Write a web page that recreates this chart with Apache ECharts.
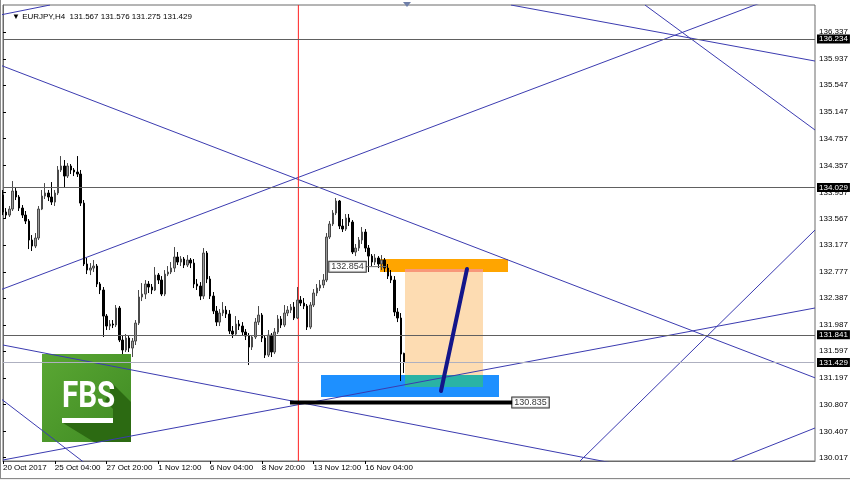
<!DOCTYPE html>
<html><head><meta charset="utf-8">
<script src="https://cdn.jsdelivr.net/npm/echarts@6/dist/echarts.min.js"></script>
<style>html,body{margin:0;padding:0;background:#fff}#c{width:850px;height:480px}</style>
</head><body><div id="c"></div>
<script>
// ---------- data ----------
const chartTitle = '\u25BC EURJPY,H4  131.567 131.576 131.275 131.429';
const slotCount = 252;          // bar slots on the time axis (incl. empty future space)
const barsPerTick = 16;
const xTickLabels = ['20 Oct 2017','25 Oct 04:00','27 Oct 20:00','1 Nov 12:00','6 Nov 04:00','8 Nov 20:00','13 Nov 12:00','16 Nov 04:00'];
const yTickValues = [130.017,130.407,130.807,131.197,131.597,131.987,132.387,132.777,133.177,133.567,133.957,134.357,134.757,135.147,135.547,135.937,136.337];
const yMin = 129.968, yMax = 136.739;
// [open, close, low, high]
const ohlc = [
[133.917,133.665,133.620,133.992],[133.665,133.620,133.576,133.724],[133.620,133.709,133.591,133.754],[133.709,133.977,133.680,134.125],
[133.977,133.888,133.843,134.021],[133.888,133.724,133.680,133.917],[133.724,133.620,133.576,133.769],[133.620,133.531,133.487,133.680],
[133.531,133.249,133.115,133.561],[133.249,133.160,133.086,133.323],[133.160,133.279,133.130,133.353],[133.279,133.709,133.249,133.754],
[133.709,133.902,133.694,133.992],[133.902,133.947,133.858,134.095],[133.947,133.888,133.828,133.992],[133.888,133.813,133.769,134.110],
[133.813,133.947,133.754,133.992],[133.947,134.289,133.917,134.348],[134.289,134.348,134.259,134.496],[134.348,134.199,134.036,134.437],
[134.199,134.348,134.170,134.392],[134.348,134.289,134.229,134.378],[134.289,134.259,134.199,134.318],[134.259,134.229,134.185,134.496],
[134.229,133.798,133.754,134.289],[133.798,132.893,132.863,133.843],[132.893,132.803,132.744,132.982],[132.803,132.833,132.729,132.907],
[132.833,132.863,132.774,132.952],[132.863,132.596,132.551,132.893],[132.596,132.507,132.447,132.625],[132.507,132.120,131.809,132.551],
[132.120,131.972,131.913,132.150],[131.972,132.002,131.913,132.061],[132.002,131.987,131.942,132.061],[131.987,132.239,131.957,132.284],
[132.239,131.764,131.734,132.269],[131.764,131.616,131.556,131.824],[131.616,131.794,131.586,131.853],[131.794,131.645,131.586,131.838],
[131.645,131.749,131.512,131.794],[131.749,132.016,131.690,132.061],[132.016,132.403,131.987,132.507],[132.403,132.447,132.343,132.610],
[132.447,132.596,132.373,132.655],[132.596,132.551,132.462,132.640],[132.551,132.507,132.447,132.596],[132.507,132.729,132.492,132.848],
[132.729,132.655,132.596,132.759],[132.655,132.447,132.417,132.714],[132.447,132.744,132.417,132.803],[132.744,132.774,132.714,132.863],
[132.774,132.833,132.744,132.922],[132.833,132.997,132.774,133.145],[132.997,132.922,132.878,133.071],[132.922,132.967,132.863,133.011],
[132.967,132.878,132.833,132.997],[132.878,132.952,132.848,133.026],[132.952,132.907,132.833,132.982],[132.907,132.596,132.536,132.967],
[132.596,132.566,132.507,132.670],[132.566,132.417,132.358,132.625],[132.417,133.056,132.373,133.130],[133.056,132.670,132.610,133.086],
[132.670,132.417,132.373,132.714],[132.417,132.195,132.150,132.477],[132.195,132.031,131.972,132.269],[132.031,132.165,131.972,132.224],
[132.165,132.209,132.120,132.328],[132.209,132.150,132.091,132.269],[132.150,131.898,131.853,132.209],[131.898,131.853,131.794,131.972],
[131.853,132.002,131.824,132.120],[132.002,131.972,131.913,132.061],[131.972,131.883,131.824,132.031],[131.883,131.824,131.764,131.927],
[131.824,131.660,131.393,131.868],[131.660,131.809,131.616,131.838],[131.809,132.031,131.779,132.091],[132.031,132.135,131.987,132.269],
[132.135,131.794,131.734,132.165],[131.794,131.541,131.497,131.824],[131.541,131.838,131.512,131.913],[131.838,131.586,131.512,131.868],
[131.586,131.883,131.556,131.942],[131.883,132.076,131.853,132.135],[132.076,131.987,131.942,132.120],[131.987,132.165,131.957,132.284],
[132.165,132.209,132.120,132.269],[132.209,132.254,132.165,132.299],[132.254,132.091,132.061,132.328],[132.091,132.358,132.076,132.551],
[132.358,132.313,132.269,132.417],[132.313,132.269,132.224,132.388],[132.269,131.957,131.913,132.299],[131.957,132.284,131.927,132.328],
[132.284,132.462,132.254,132.521],[132.462,132.536,132.417,132.596],[132.536,132.581,132.492,132.655],[132.581,132.655,132.536,132.744],
[132.655,133.294,132.625,133.353],[133.294,133.487,133.264,133.531],[133.487,133.650,133.457,133.694],[133.650,133.828,133.620,133.873],
[133.828,133.457,133.412,133.843],[133.457,133.412,133.368,133.561],[133.412,133.576,133.383,133.635],[133.576,133.516,133.457,133.635],
[133.516,133.071,133.041,133.546],[133.071,133.130,133.011,133.190],[133.130,133.249,133.086,133.294],[133.249,133.368,133.190,133.442],
[133.368,133.130,133.071,133.412],[133.130,133.011,132.774,133.175],[133.011,132.922,132.863,133.041],[132.922,132.982,132.878,133.041],
[132.982,132.893,132.833,133.011],[132.893,132.952,132.803,133.026],[132.952,132.833,132.774,132.982],[132.833,132.714,132.670,132.893],
[132.714,132.655,132.610,132.803],[132.655,132.180,132.120,132.714],[132.180,132.091,132.031,132.239],[132.091,131.556,131.155,132.165],
[131.567,131.429,131.275,131.576]
];
const levelLines = [136.234, 134.029, 131.841];
const bidLevel = 131.429;
const redLineBar = 91.3;
// trend lines: [[barIndex, price], [barIndex, price]]
const trendLines = [
  [[-0.93,135.848],[251,131.203]],
  [[-0.93,132.507],[251,137.076]],
  [[157.03,136.739],[251,135.907]],
  [[198.45,136.739],[251,134.883]],
  [[0,129.983],[251,132.240]],
  [[-0.93,130.903],[26.89,129.879]],
  [[0,131.690],[190.72,129.916]],
  [[178.36,129.968],[251,133.398]],
  [[225.34,129.968],[251,130.458]],
  [[-0.93,136.590],[14.53,136.739]]
];
// zones: [barFrom, barTo, priceLow, priceHigh]
const zones = [
  [116.53,156.10,132.774,132.967],
  [124.26,148.37,131.067,132.819],
  [124.26,148.37,132.774,132.819],
  [98.30,153.32,130.918,131.245],
  [124.26,148.37,131.067,131.245]
];
const zoneColors = ['#ffa500','#fddcb2','#f8987a','#1e90ff','#2ab3a5'];
const targetArrow = [[135.39,131.007],[143.43,132.819]];
const supportLine = [[88.71,130.835],[157.65,130.835]];
const supportLabel = [163.06,130.835,'130.835'];
const pivotConnector = [[111.9,132.854],[118.7,132.854]];
const pivotLabel = [106.49,132.854,'132.854'];

// ---------- chart ----------
const chart = echarts.init(document.getElementById('c'), null, {renderer:'canvas'});
const FONT = '"Liberation Sans", Arial, sans-serif';
const cats = Array.from({length: slotCount}, (_, i) => String(i));
const showTick = (i) => i % barsPerTick === 0 && i / barsPerTick < xTickLabels.length;

const series = [];
series.push({
  type:'custom', xAxisIndex:1, yAxisIndex:0, z:1, silent:true,
  encode:{x:[0,1], y:[2,3]},
  data: zones,
  renderItem: (params, api) => {
    const a = api.coord([api.value(0), api.value(3)]);
    const b = api.coord([api.value(1), api.value(2)]);
    return {type:'rect', shape:{x:a[0], y:a[1], width:b[0]-a[0], height:b[1]-a[1]},
      style:{fill: zoneColors[params.dataIndex]}};
  }
});
trendLines.forEach(tl => series.push({
  type:'line', xAxisIndex:1, yAxisIndex:0, data: tl, symbol:'none', silent:true, z:3,
  lineStyle:{color:'#3b3bb0', width:1}, clip:true, animation:false
}));
series.push({
  type:'line', xAxisIndex:1, yAxisIndex:0, symbol:'none', silent:true, z:3,
  data: [[redLineBar, yMin],[redLineBar, yMax]], lineStyle:{color:'#ff2020', width:1}
});
series.push({
  type:'line', xAxisIndex:1, yAxisIndex:0, symbol:'none', silent:true, z:5,
  data: supportLine, lineStyle:{color:'#000', width:4}
});
series.push({
  type:'line', xAxisIndex:1, yAxisIndex:0, symbol:'none', silent:true, z:5,
  data: targetArrow, lineStyle:{color:'#13168a', width:4, cap:'round'}
});
series.push({
  type:'line', xAxisIndex:1, yAxisIndex:0, symbol:'none', silent:true, z:5,
  data: pivotConnector, lineStyle:{color:'#707070', width:1}
});
const boxLabel = {
  show:true, position:'inside', formatter: p => p.value[2], color:'#000',
  fontFamily: FONT, fontSize: 9, backgroundColor:'#fff', borderColor:'#000', borderWidth:1,
  padding:[1,2,0,2]
};
series.push({
  type:'scatter', xAxisIndex:1, yAxisIndex:0, symbolSize:0, silent:true, z:6,
  data:[pivotLabel, supportLabel], label: boxLabel
});
const levelLabel = {
  show:true, position:'end', distance:2, formatter: p => Number(p.value).toFixed(3),
  color:'#fff', backgroundColor:'#000', padding:[1,2,0,2], fontSize:8, fontFamily: FONT
};
series.push({
  type:'candlestick', xAxisIndex:0, yAxisIndex:0, z:4, silent:true, barWidth:2,
  data: ohlc,
  itemStyle:{color:'#9a9a9a', color0:'#000', borderColor:'#4a4a4a', borderColor0:'#000', borderWidth:1},
  markLine:{
    silent:true, symbol:'none', animation:false, precision:3,
    data: levelLines.map(v => ({yAxis:v, lineStyle:{color:'#606060', width:1, type:'solid'}, label: levelLabel}))
      .concat([{yAxis: bidLevel, lineStyle:{color:'#aeb0c0', width:1, type:'solid'}, label: levelLabel}])
  }
});

chart.setOption({
  animation:false,
  backgroundColor:'#fff',
  title:{ text: chartTitle, left:7, top:8,
    textStyle:{fontSize:8, fontWeight:'normal', color:'#000', fontFamily: FONT} },
  grid:{ left:3, right:35, top:5, bottom:19, show:true, borderColor:'#6a6a6a', borderWidth:1,
    backgroundColor:'transparent', outerBoundsMode:'none', containLabel:false },
  xAxis:[{
    type:'category', data: cats, boundaryGap:false,
    axisLine:{show:true, lineStyle:{color:'#6a6a6a'}},
    axisTick:{show:true, interval:(i)=>showTick(i), length:3, lineStyle:{color:'#000'}},
    axisLabel:{ interval:(i)=>showTick(i), formatter:(v,i)=>xTickLabels[i / barsPerTick],
      align:'left', margin:3, fontSize:8, color:'#000', fontFamily: FONT },
    splitLine:{show:false}
  },{
    type:'value', min:0, max: slotCount-1, show:false
  }],
  yAxis:[{
    type:'value', position:'right', min:yMin, max:yMax, scale:true,
    axisLine:{show:true, lineStyle:{color:'#6a6a6a'}},
    axisTick:{show:true, length:3, customValues: yTickValues, lineStyle:{color:'#000'}},
    axisLabel:{ customValues: yTickValues, formatter: v => v.toFixed(3), margin:4,
      fontSize:8, color:'#000', fontFamily: FONT, showMinLabel:true, showMaxLabel:true },
    splitLine:{show:false}
  }],
  graphic:[
    {type:'rect', shape:{x:0, y:478, width:850, height:2}, style:{fill:'#efefef'}, z:10},
    {type:'line', shape:{x1:0, y1:478.5, x2:850, y2:478.5}, style:{stroke:'#8a8a8a', lineWidth:1}, z:10},
    {type:'line', shape:{x1:0.5, y1:0, x2:0.5, y2:478}, style:{stroke:'#8a8a8a', lineWidth:1}, z:10},
    {type:'polygon', shape:{points:[[403,2],[411,2],[407,7]]}, style:{fill:'#6f7fa8'}, z:10},
    {type:'group', left:42, top:354, z:20, children:[
      {type:'rect', shape:{x:0, y:0, width:89, height:88},
        style:{fill:new echarts.graphic.LinearGradient(0,0,1,1,[{offset:0,color:'#5aa733'},{offset:1,color:'#3f8a23'}])}},
      {type:'polygon', shape:{points:[[68,27],[89,48],[89,88],[52,88],[21,69],[71,69],[71,55],[63,47],[68,38]]},
        style:{fill:'#2c6a12'}},
      {type:'text', x:20, y:26, style:{text:'FBS', fill:'#fff', font:'bold 36px Roboto, "Liberation Sans", sans-serif',
        textVerticalAlign:'top'}, scaleX:0.82},
      {type:'rect', shape:{x:20, y:64, width:51, height:5}, style:{fill:'#fff'}}
    ]}
  ],
  series: series
});
</script></body></html>
